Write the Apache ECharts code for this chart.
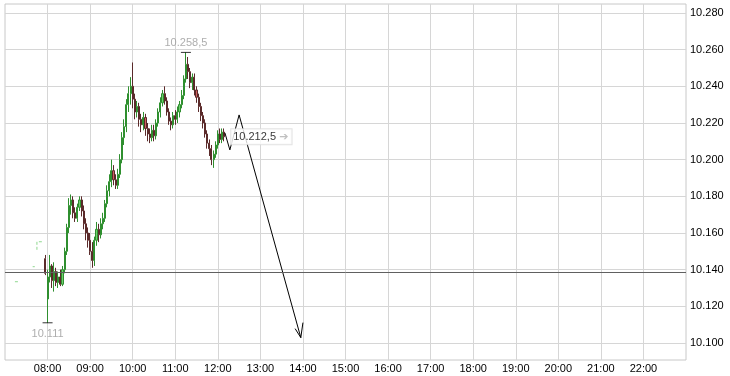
<!DOCTYPE html>
<html><head><meta charset="utf-8">
<script src="https://cdn.jsdelivr.net/npm/echarts@6/dist/echarts.min.js"></script>
<style>html,body{margin:0;padding:0;background:#fff}#c{width:730px;height:376px}</style>
</head><body><div id="c"></div>
<script>
// ---- data ----
const candleTimes = ['07:57','08:00','08:03','08:06','08:09','08:12','08:15','08:18','08:21','08:24','08:27','08:30','08:33','08:36','08:39','08:42','08:45','08:48','08:51','08:54','08:57',
'09:00','09:03','09:06','09:09','09:12','09:15','09:18','09:21','09:24','09:27','09:30','09:33','09:36','09:39','09:42','09:45','09:48','09:51','09:54','09:57',
'10:00','10:03','10:06','10:09','10:12','10:15','10:18','10:21','10:24','10:27','10:30','10:33','10:36','10:39','10:42','10:45','10:48','10:51','10:54','10:57',
'11:00','11:03','11:06','11:09','11:12','11:15','11:18','11:21','11:24','11:27','11:30','11:33','11:36','11:39','11:42','11:45','11:48','11:51','11:54','11:57',
'12:00','12:03','12:06','12:09'];
// [open, close, low, high]
const candleOHLC = [
[10146,10138,10137,10148],
[10124,10136,10111,10140],[10136,10142,10133,10148],[10142,10134,10130,10143],[10134,10139,10128,10144],[10139,10133,10131,10141],[10133,10136,10130,10139],[10136,10132,10131,10140],[10132,10140,10131,10142],[10140,10150,10138,10152],[10150,10163,10148,10165],
[10163,10175,10160,10179],[10175,10178,10170,10181],[10178,10171,10168,10180],[10171,10168,10166,10174],[10168,10174,10166,10176],[10174,10178,10172,10180],[10178,10172,10169,10180],[10172,10165,10162,10175],[10165,10160,10156,10168],[10160,10156,10152,10163],
[10156,10150,10148,10160],[10150,10145,10141,10155],[10145,10156,10142,10158],[10156,10162,10153,10166],[10162,10159,10155,10165],[10159,10165,10157,10168],[10165,10168,10162,10171],[10168,10176,10166,10178],[10176,10183,10174,10186],[10183,10188,10180,10192],
[10188,10194,10185,10200],[10194,10189,10186,10197],[10189,10186,10184,10192],[10186,10192,10184,10195],[10192,10200,10190,10203],[10200,10212,10198,10215],[10212,10218,10208,10222],[10218,10230,10215,10233],[10230,10236,10226,10240],[10236,10240,10230,10245],
[10240,10233,10228,10253],[10233,10226,10222,10236],[10226,10229,10223,10232],[10229,10222,10218,10231],[10222,10219,10215,10225],[10219,10223,10216,10226],[10223,10217,10213,10225],[10217,10214,10210,10220],[10214,10212,10209,10217],[10212,10216,10210,10219],
[10216,10213,10210,10219],[10213,10220,10211,10222],[10220,10226,10218,10228],[10226,10231,10223,10234],[10231,10236,10229,10238],[10236,10232,10230,10240],[10232,10226,10224,10234],[10226,10221,10219,10228],[10221,10219,10216,10223],[10219,10224,10217,10226],
[10224,10222,10219,10227],[10222,10226,10220,10229],[10226,10230,10223,10232],[10230,10235,10228,10238],[10235,10244,10233,10246],[10244,10252,10242,10258.5],[10252,10248,10244,10256],[10248,10242,10239,10250],[10242,10245,10238,10247],[10245,10238,10235,10247],
[10238,10234,10231,10240],[10234,10229,10226,10236],[10229,10224,10221,10231],[10224,10220,10217,10226],[10220,10214,10212,10222],[10214,10209,10206,10216],[10209,10206,10202,10211],[10206,10200,10197,10208],[10200,10203,10195.5,10205],[10203,10208,10201,10210],
[10208,10214,10206,10216],[10214,10211,10209,10217],[10211,10215,10209,10217],[10215,10212.5,10210,10217]
];
const preTimes = ['07:14','07:21',null,'07:39','07:42',null,'07:45','07:45','07:54'];
const preValues = [10133.4,10133.4,null,10141.6,10141.6,null,10150.8,10155.2,10155.2];
const previousClose = 10138.3;
const highPoint = ['11:15', 10258.5];
const lowPoint = ['08:00', 10111];
const lastPoint = ['12:09', 10212.5];
const arrowTimes = ['12:10','12:17','12:30','13:57'];
const arrowValues = [10214.6,10205.3,10224.4,10102.9];
const arrowHeadTimes = ['13:49','13:57','14:00'];
const arrowHeadValues = [10107.8,10102.9,10111.1];
const yTicks = [10100,10120,10140,10160,10180,10200,10220,10240,10260,10280];
const xTicks = ['08:00','09:00','10:00','11:00','12:00','13:00','14:00','15:00','16:00','17:00','18:00','19:00','20:00','21:00','22:00'];

// ---- helpers ----
function toMin(t){ const p=t.split(':'); return (+p[0])*60 + (+p[1]); }
function de(v, dec){
  const neg = v<0; v=Math.abs(v);
  let s = dec ? v.toFixed(dec) : String(Math.round(v));
  let [i,f] = s.split('.');
  i = i.replace(/\B(?=(\d{3})+(?!\d))/g,'.');
  return (neg?'-':'') + i + (f ? ','+f : '');
}
function hhmm(m){ const h=Math.floor(m/60), mm=m%60; return (h<10?'0':'')+h+':'+(mm<10?'0':'')+mm; }

const candleData = candleTimes.map((t,i)=>[toMin(t)].concat(candleOHLC[i]));
const preData = preTimes.map((t,i)=> t===null ? [null,null] : [toMin(t), preValues[i]]);
const arrowData = arrowTimes.map((t,i)=>[toMin(t), arrowValues[i]]);
const headData = arrowHeadTimes.map((t,i)=>[toMin(t), arrowHeadValues[i]]);

const FONT = 'Liberation Sans, Arial, sans-serif';
const chart = echarts.init(document.getElementById('c'), null, {renderer:'canvas'});
chart.setOption({
  animation:false,
  backgroundColor:'#fff',
  grid:{left:5,right:44,top:4,bottom:16,show:true,borderColor:'#c8c8c8',borderWidth:1,containLabel:false},
  xAxis:{
    type:'value', min:420, max:1380, interval:60,
    axisLine:{show:false}, axisTick:{show:false, customValues:xTicks.map(toMin)},
    splitLine:{show:true, lineStyle:{color:'#d6d6d6',width:1}},
    axisLabel:{customValues:xTicks.map(toMin), formatter:v=>hhmm(v), color:'#000', fontSize:11, fontFamily:FONT, margin:3}
  },
  yAxis:{
    type:'value', position:'right', min:10090.7, max:10284.9, scale:true,
    axisLine:{show:false}, axisTick:{show:false, customValues:yTicks},
    splitLine:{show:true, lineStyle:{color:'#d6d6d6',width:1}},
    axisLabel:{customValues:yTicks, formatter:v=>de(v,0), color:'#000', fontSize:11, fontFamily:FONT, margin:4}
  },
  series:[
    {
      type:'line', data:preData, showSymbol:false, connectNulls:false,
      lineStyle:{color:'#8fd88f', width:1, type:[3,2]}, z:2
    },
    {
      type:'candlestick', data:candleData, barWidth:1.6,
      itemStyle:{color:'#6fd06f', color0:'#d06060', borderColor:'#2f8f2f', borderColor0:'#5a2a2a', borderWidth:1},
      markLine:{
        silent:true, symbol:['none','none'],
        label:{show:false},
        lineStyle:{color:'#606060', width:1, type:'solid'},
        data:[{yAxis:previousClose}]
      },
      z:3
    },
    {
      type:'line', data:arrowData, showSymbol:false,
      lineStyle:{color:'#000', width:1}, z:4
    },
    {
      type:'line', data:headData, showSymbol:false,
      lineStyle:{color:'#000', width:1}, z:4
    },
    {
      type:'scatter', z:5,
      data:[
        {value:[toMin(highPoint[0]), highPoint[1]], label:{position:'top', distance:3, formatter:de(highPoint[1],1)}},
        {value:[toMin(lowPoint[0]), lowPoint[1]], label:{position:'bottom', distance:5, formatter:de(lowPoint[1],0)}}
      ],
      symbol:'rect', symbolSize:[10,1],
      itemStyle:{color:'#000'},
      label:{show:true, color:'#999', fontSize:11, fontFamily:FONT}
    },
    {
      type:'scatter', z:6,
      data:[[toMin(lastPoint[0]), lastPoint[1]]],
      symbolSize:0,
      label:{
        show:true, position:'right', distance:7,
        formatter:'{a|'+de(lastPoint[1],1)+'} {b|➔}',
        backgroundColor:'#fff', borderColor:'#dcdcdc', borderWidth:1, padding:[2,3,1,2],
        rich:{a:{color:'#000',fontSize:11,fontFamily:FONT}, b:{color:'#b0b0b0',fontSize:11,fontFamily:'DejaVu Sans'}}
      }
    }
  ]
});
</script></body></html>
